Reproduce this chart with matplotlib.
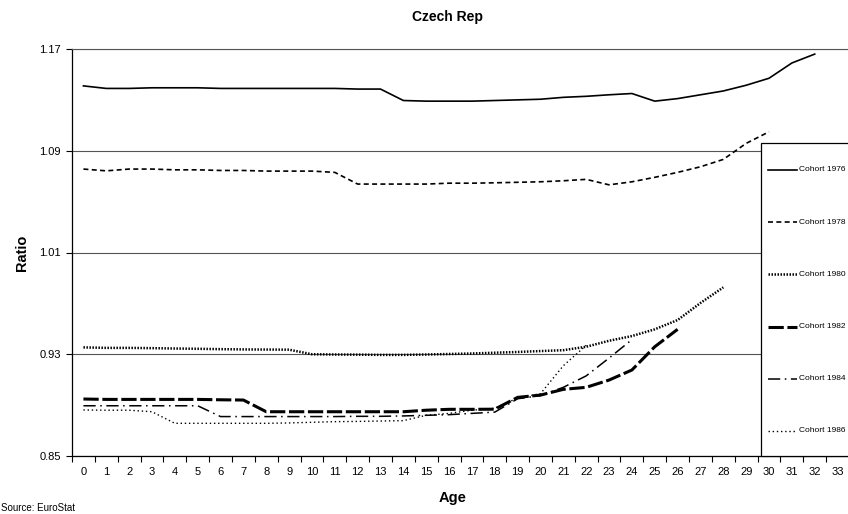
import matplotlib
matplotlib.use("Agg")
import matplotlib.pyplot as plt
import matplotlib.patches as patches
from matplotlib.lines import Line2D
import numpy as np

plt.rcParams['font.family'] = ['Liberation Sans', 'DejaVu Sans']

# Données (ratio par âge)
ages = list(range(34))
cohort_1976 = [1.141, 1.139, 1.139, 1.1395, 1.1395, 1.1395, 1.139, 1.139, 1.139, 1.139,
               1.139, 1.139, 1.1385, 1.1385, 1.1295, 1.129, 1.129, 1.129, 1.1295, 1.130,
               1.1305, 1.132, 1.1328, 1.134, 1.135, 1.129, 1.131, 1.134, 1.137, 1.1415,
               1.147, 1.159, 1.166]
cohort_1978 = [1.0756, 1.0742, 1.0756, 1.0756, 1.075, 1.075, 1.0745, 1.0745, 1.074, 1.074,
               1.074, 1.073, 1.0638, 1.0638, 1.0638, 1.0638, 1.0645, 1.0645, 1.0648, 1.0652,
               1.0656, 1.0664, 1.0675, 1.0632, 1.0656, 1.0691, 1.073, 1.0774, 1.0832, 1.0958,
               1.1049]
cohort_1980 = [0.9354, 0.935, 0.935, 0.9348, 0.9345, 0.9343, 0.934, 0.9338, 0.9337, 0.9336,
               0.930, 0.9298, 0.9297, 0.9295, 0.9295, 0.9298, 0.9302, 0.9306, 0.9312, 0.9318,
               0.9325, 0.9332, 0.9359, 0.9406, 0.9443, 0.9496, 0.9569, 0.9703, 0.9826]
cohort_1982 = [0.8948, 0.8945, 0.8945, 0.8945, 0.8945, 0.8945, 0.8942, 0.894, 0.8848, 0.8848,
               0.8848, 0.8848, 0.8848, 0.8848, 0.8848, 0.886, 0.8867, 0.8867, 0.8868, 0.8961,
               0.8979, 0.9024, 0.904, 0.9097, 0.9176, 0.9359, 0.9496]
cohort_1984 = [0.8895, 0.8895, 0.8895, 0.8895, 0.8895, 0.8895, 0.881, 0.881, 0.881, 0.881,
               0.881, 0.881, 0.8812, 0.8812, 0.8815, 0.882, 0.8825, 0.8835, 0.8845, 0.895,
               0.8975, 0.904, 0.913, 0.927, 0.9415]
cohort_1986 = [0.8862, 0.886, 0.886, 0.8848, 0.8757, 0.8757, 0.8757, 0.8757, 0.8757, 0.876,
               0.8765, 0.877, 0.8772, 0.8775, 0.8778, 0.882, 0.8835, 0.886, 0.8875, 0.8956,
               0.899, 0.921, 0.937]
labels = ['Cohort 1976', 'Cohort 1978', 'Cohort 1980', 'Cohort 1982', 'Cohort 1984', 'Cohort 1986']
yticks = [0.85, 0.93, 1.01, 1.09, 1.17]

series = [cohort_1976, cohort_1978, cohort_1980, cohort_1982, cohort_1984, cohort_1986]
# styles de ligne (style Excel)
styles = [
    dict(linestyle='-', lw=1.2),
    dict(linestyle=(0, (3, 2)), lw=1.2),
    dict(linestyle=(0, (0.6, 0.6)), lw=1.8),
    dict(linestyle=(0, (5, 1.2)), lw=2.2),
    dict(linestyle=(0, (8, 3, 1, 3)), lw=1.1),
    dict(linestyle=(0, (1, 2)), lw=1.0),
]

fig = plt.figure(figsize=(8.48, 5.14), dpi=100)
ax = fig.add_axes([72 / 848, 58 / 514, 777 / 848, 407 / 514])

for vals, st in zip(series, styles):
    ax.plot(ages[:len(vals)], vals, color='black', **st)

ax.set_xlim(-0.5, 33.5)
ax.set_ylim(0.85, 1.17)

# axe des catégories : graduations entre les catégories
ax.set_xticks(ages)
ax.set_xticklabels([str(a) for a in ages], fontsize=8)
ax.set_xticks(np.arange(-0.5, 34, 1), minor=True)
ax.tick_params(axis='x', which='major', length=0, pad=8)
ax.tick_params(axis='x', which='minor', length=4, direction='out', width=0.8)

ax.set_yticks(yticks)
ax.set_yticklabels([f'{v:.2f}' for v in yticks], fontsize=8)
ax.tick_params(axis='y', length=4, direction='out', width=0.8, pad=4)

ax.yaxis.grid(True, color='#555555', lw=0.8)
ax.set_axisbelow(True)
ax.spines['right'].set_visible(False)
ax.spines['top'].set_color('#555555')
ax.spines['left'].set_linewidth(0.9)
ax.spines['bottom'].set_linewidth(0.9)

# Titres
fig.text(447 / 848, 1 - 17 / 514, 'Czech Rep', ha='center', va='center', fontsize=10, fontweight='bold')
fig.text(22 / 848, 1 - 253 / 514, 'Ratio', ha='center', va='center', rotation=90,
         fontsize=10.5, fontweight='bold')
fig.text(453 / 848, 1 - 498 / 514, 'Age', ha='center', va='center', fontsize=10.5, fontweight='bold')
fig.text(1 / 848, 1 - 508 / 514, 'Source: EuroStat', ha='left', va='center', fontsize=7)

# Légende dessinée à la main (boîte coupée à droite comme l'original)
leg_left, leg_top, leg_bottom = 761, 143, 456
box = patches.Rectangle((leg_left / 848, 1 - leg_bottom / 514), 120 / 848, (leg_bottom - leg_top) / 514,
                        transform=fig.transFigure, facecolor='white', edgecolor='black', lw=0.9,
                        zorder=10)
fig.patches.append(box)
for i, (lab, st) in enumerate(zip(labels, styles)):
    yy = 1 - (170 + i * 52.2) / 514
    fig.lines.append(Line2D([768 / 848, 797 / 848], [yy, yy], transform=fig.transFigure,
                            color='black', zorder=11, **st))
    fig.text(799 / 848, yy, lab, ha='left', va='center', fontsize=6, zorder=11)

fig.savefig('out.png', dpi=100)
